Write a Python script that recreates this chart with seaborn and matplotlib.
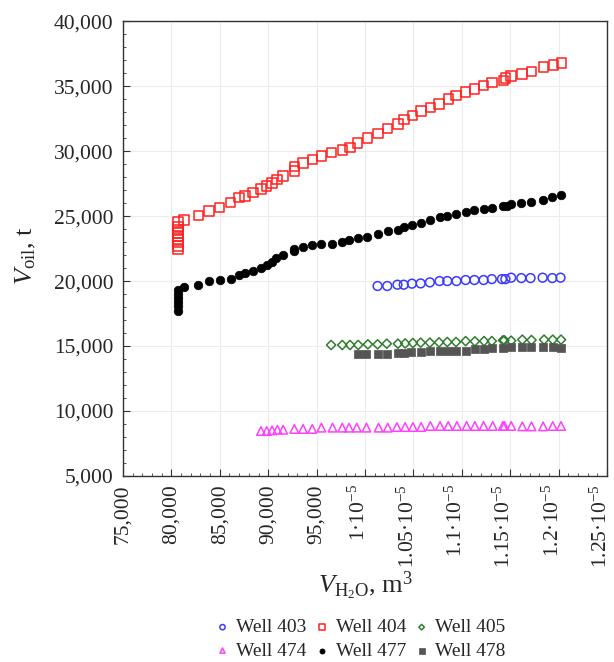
import numpy as np
import pandas as pd
import seaborn as sns
import matplotlib.pyplot as plt
import matplotlib.transforms as mtransforms
from matplotlib.ticker import MultipleLocator, FixedLocator, FixedFormatter

# readings
x403 = [101300, 102300, 103350, 104000, 104850, 105750, 106700, 107700, 108500, 109450, 110400,
        111300, 112250, 113100, 114150, 114500, 115100, 116150, 117100, 118350, 119350, 120200]
y403 = [19620, 19620, 19720, 19720, 19800, 19820, 19900, 20000, 20000, 20000, 20080,
        20080, 20080, 20150, 20150, 20150, 20260, 20230, 20230, 20260, 20230, 20260]

x404 = [80700, 80700, 80700, 80700, 80700, 80700, 80700, 80700, 80700,
        81300, 82800, 83900, 85000, 86100, 87000, 87600, 88450, 89250, 89850, 90400, 90900,
        91550, 92700, 92700, 93600, 94600, 95500, 96550, 97650, 98450, 99250, 100250, 101350,
        102350, 103400, 104050, 104900, 105800, 106750, 107650, 108600, 109400, 110400, 111300,
        112250, 113100, 114300, 114500, 115100, 116200, 117200, 118450, 119450, 120300]
y404 = [22440, 22700, 22950, 23200, 23450, 23700, 23950, 24200, 24560,
        24700, 25030, 25380, 25670, 26030, 26410, 26560, 26820, 27100, 27310, 27560, 27820,
        28100, 28460, 28820, 29100, 29360, 29620, 29900, 30100, 30280, 30640, 31000, 31360,
        31720, 32080, 32440, 32720, 33080, 33360, 33620, 34000, 34260, 34540, 34770,
        35050, 35260, 35440, 35620, 35770, 35950, 36150, 36460, 36620, 36770]

x405 = [96500, 97650, 98450, 99300, 100300, 101300, 102250, 103400, 104150, 104950, 105750,
        106700, 107650, 108500, 109400, 110400, 111350, 112300, 113100, 114250, 114400, 115100,
        116250, 117200, 118500, 119400, 120250]
y405 = [15080, 15080, 15080, 15080, 15130, 15130, 15180, 15180, 15200, 15230, 15260,
        15260, 15280, 15310, 15310, 15380, 15360, 15380, 15380, 15440, 15440, 15410,
        15490, 15460, 15490, 15490, 15490]

x474 = [89250, 89850, 90400, 90950, 91550, 92700, 93600, 94550, 95500, 96650, 97650, 98350,
        99150, 100150, 101400, 102350, 103300, 104150, 104950, 105800, 106750, 107750, 108600,
        109500, 110500, 111350, 112250, 113200, 114250, 114400, 115100, 116250, 117200, 118400,
        119400, 120250]
y474 = [8460, 8460, 8510, 8560, 8560, 8620, 8620, 8620, 8720, 8720, 8720, 8720,
        8720, 8720, 8720, 8720, 8770, 8770, 8770, 8770, 8850, 8850, 8850,
        8850, 8850, 8850, 8850, 8850, 8850, 8850, 8850, 8820, 8820, 8820,
        8850, 8850]

x477 = [80700, 80700, 80700, 80700, 80700, 80700,
        81300, 82800, 83900, 85050, 86150, 87000, 87600, 88450, 89250, 89850, 90400, 90850,
        91500, 92700, 92700, 93600, 94550, 95450, 96550, 97650, 98350, 99300, 100250, 101300,
        102350, 103400, 104000, 104850, 105750, 106700, 107700, 108500, 109450, 110400, 111300,
        112250, 113100, 114250, 114650, 115100, 116150, 117100, 118350, 119350, 120200]
y477 = [17700, 18100, 18400, 18700, 19000, 19350,
        19540, 19690, 20000, 20080, 20180, 20440, 20620, 20800, 20970, 21260, 21460, 21740,
        22000, 22310, 22490, 22620, 22770, 22870, 22870, 23030, 23150, 23310, 23410, 23590,
        23850, 23950, 24150, 24310, 24460, 24720, 24920, 25000, 25180, 25280, 25460,
        25540, 25640, 25740, 25800, 25900, 26000, 26080, 26260, 26440, 26640]

x478 = [99250, 100150, 101300, 102250, 103450, 104000, 104750, 105750, 106750, 107700, 108600,
        109450, 110400, 111350, 112300, 113100, 114250, 115050, 116250, 117200, 118400, 119400,
        120250]
y478 = [14360, 14360, 14360, 14360, 14460, 14460, 14510, 14560, 14620, 14620, 14620,
        14620, 14620, 14740, 14740, 14820, 14870, 14920, 14920, 14920, 14920, 14920, 14870]

xtick_vals = [75000, 80000, 85000, 90000, 95000, 100000, 105000, 110000, 115000, 120000, 125000]
xtick_labels = ['75,000', '80,000', '85,000', '90,000', '95,000',
                '1·10$^{-5}$', '1.05·10$^{-5}$', '1.1·10$^{-5}$',
                '1.15·10$^{-5}$', '1.2·10$^{-5}$', '1.25·10$^{-5}$']
ytick_vals = [5000, 10000, 15000, 20000, 25000, 30000, 35000, 40000]

sns.set_style('whitegrid')
plt.rcParams['font.family'] = ['Liberation Serif', 'DejaVu Serif']
plt.rcParams['mathtext.fontset'] = 'custom'
plt.rcParams['mathtext.rm'] = 'Liberation Serif'
plt.rcParams['mathtext.it'] = 'Liberation Serif:italic'
plt.rcParams['mathtext.bf'] = 'Liberation Serif:bold'

fig = plt.figure(figsize=(6.14, 6.62), dpi=100)
ax = fig.add_axes([0.2003, 0.281, 0.7883, 0.687])

series = [
    ('Well 403', x403, y403, 'o', '#3a3aff', False, 40),
    ('Well 404', x404, y404, 's', '#ff2020', False, 46),
    ('Well 405', x405, y405, 'D', '#2f7d2f', False, 22),
    ('Well 474', x474, y474, '^', '#ff40ff', False, 38),
    ('Well 477', x477, y477, 'o', 'black', True, 38),
    ('Well 478', x478, y478, 's', '#555555', True, 40),
]
for name, xs, ys, mk, col, filled, sz in series:
    d = pd.DataFrame({'x': xs, 'y': ys})
    if filled:
        sns.scatterplot(data=d, x='x', y='y', ax=ax, marker=mk, s=sz, color=col,
                        edgecolor=col, linewidth=0.5, label=name, zorder=3)
    else:
        sns.scatterplot(data=d, x='x', y='y', ax=ax, marker=mk, s=sz, facecolor='none',
                        edgecolor=col, linewidth=1.1, label=name, zorder=3)

ax.set_xlim(75000, 125000)
ax.set_ylim(5000, 40000)
ax.xaxis.set_major_locator(FixedLocator(xtick_vals))
ax.xaxis.set_major_formatter(FixedFormatter(xtick_labels))
ax.xaxis.set_minor_locator(MultipleLocator(1000))
ax.set_yticks(ytick_vals)
ax.set_yticklabels([f'{v:,}' for v in ytick_vals])
ax.yaxis.set_minor_locator(MultipleLocator(1000))
ax.grid(True, which='major', color='#ececec', linewidth=0.8)
ax.grid(False, which='minor')
for sp in ax.spines.values():
    sp.set_color('#333333')
    sp.set_linewidth(1.0)
ax.tick_params(axis='both', which='major', direction='in', length=5, width=0.8,
               color='#333333', labelsize=15.5, left=True, bottom=True)
ax.tick_params(axis='x', which='major', pad=6)
ax.tick_params(axis='y', which='major', pad=7)
ax.tick_params(axis='both', which='minor', direction='in', length=2.5, width=0.6,
               color='#333333', left=True, bottom=True)
plt.setp(ax.get_xticklabels(), rotation=90)
# the superscript widens the box of the rotated labels, nudge them back
shift = mtransforms.ScaledTranslation(-4 / 72, 0, fig.dpi_scale_trans)
for lab in ax.get_xticklabels()[5:]:
    lab.set_transform(lab.get_transform() + shift)
ax.set_xlabel(r'$V_{\mathrm{H_2O}}$, m$^3$', fontsize=19)
ax.set_ylabel(r'$V_{\mathrm{oil}}$, t', fontsize=19)
ax.xaxis.set_label_coords(0.5, -0.205)
ax.yaxis.set_label_coords(-0.175, 0.485)

h, l = ax.get_legend_handles_labels()
ax.get_legend().remove()
order = [0, 3, 1, 4, 2, 5]
fig.legend([h[i] for i in order], [l[i] for i in order], loc='center',
           bbox_to_anchor=(0.585, 0.0345), ncol=3, frameon=False, fontsize=14,
           markerscale=0.6, handletextpad=0.2, columnspacing=0.3, handlelength=1.0,
           labelspacing=0.3, borderpad=0.1)

fig.savefig('out.png', dpi=100)
